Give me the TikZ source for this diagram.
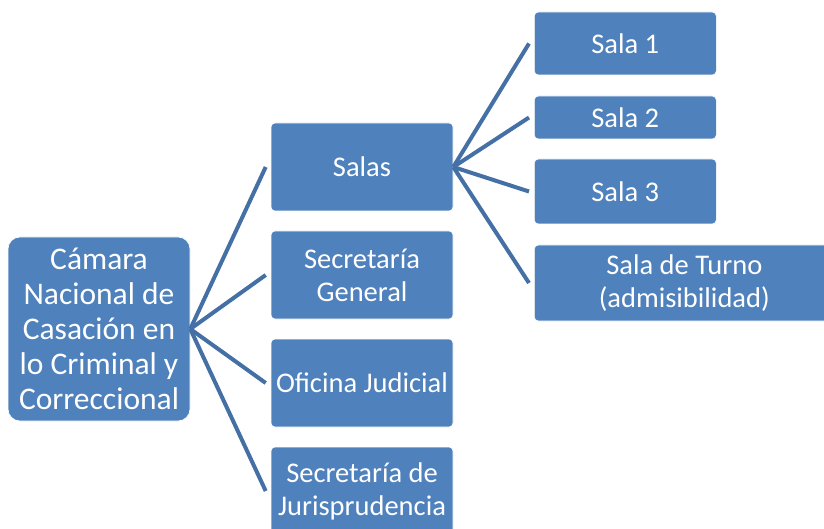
\documentclass[tikz,border=0pt]{standalone}
\usepackage{fontspec}
\setmainfont{Carlito}
\usepackage{tikz}
\usetikzlibrary{trees}
\definecolor{boxblue}{HTML}{4F81BD}
\definecolor{linkblue}{HTML}{4470A6}
\begin{document}
\begin{tikzpicture}[
  grow'=right,
  box/.style={fill=boxblue,draw=white,line width=0.6pt,text=white,rounded corners=4pt,
    minimum width=182pt,minimum height=88pt,inner sep=0pt,align=center,
    font=\fontsize{28.5}{33}\selectfont},
  level 1/.style={level distance=263pt,sibling distance=108pt},
  level 2/.style={level distance=172pt,sibling distance=80pt},
  edge from parent/.style={draw=linkblue,line width=4pt},
  edge from parent path={(\tikzparentnode.east) -- ([xshift=-5pt]\tikzchildnode.west)}
]
\useasboundingbox (0pt,0pt) rectangle (824pt,528pt);
\node[box,rounded corners=12pt,minimum height=184pt,font=\fontsize{31.5}{35}\selectfont] (camara) at (99pt,199pt)
  {Cámara\\Nacional de\\Casación en\\lo Criminal y\\Correccional}
    child { node[box] (salas) {Salas}
      child { node[box,anchor=west,minimum height=63pt,yshift=3.5pt] (sala1) {Sala 1}
    }
      child { node[box,anchor=west,minimum height=43pt,yshift=9.5pt] (sala2) {Sala 2}
    }
      child { node[box,anchor=west,minimum height=65pt,yshift=15.5pt] (sala3) {Sala 3}
    }
      child { node[box,anchor=west,minimum height=76pt,minimum width=300pt,yshift=4pt] (turno) {Sala de Turno\\(admisibilidad)}
    }
  }
    child { node[box] (secgral) {Secretaría\\General}
  }
    child { node[box] (oficina) {Oficina Judicial}
  }
    child { node[box] (juris) {Secretaría de\\Jurisprudencia}
  };
\end{tikzpicture}
\end{document}
